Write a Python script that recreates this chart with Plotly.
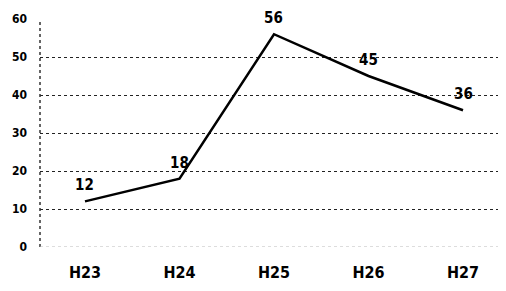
import plotly.graph_objects as go

categories = ["H23", "H24", "H25", "H26", "H27"]
values = [12, 18, 56, 45, 36]
y_ticks = [0, 10, 20, 30, 40, 50, 60]

FONT = "DejaVu Sans Condensed, Liberation Sans Narrow, sans-serif"

fig = go.Figure()
fig.add_trace(go.Scatter(
    x=list(range(len(categories))), y=values,
    mode="lines",
    line=dict(color="black", width=2.5),
    cliponaxis=False,
    showlegend=False,
))

for i, v in enumerate(values):
    fig.add_annotation(x=i, y=v, text=str(v), showarrow=False, yshift=16,
                       font=dict(family=FONT, size=15, color="black", weight="bold"))

# page body has an 8px margin, so the figure is offset by (8, 8) in the window
fig.update_layout(
    width=506, height=283,
    margin=dict(l=32, r=0, t=11, b=44, autoexpand=False),
    paper_bgcolor="white", plot_bgcolor="white",
    xaxis=dict(
        range=[-0.476, 4.455 + 8 / 94.5], automargin=False,
        tickmode="array", tickvals=list(range(len(categories))), ticktext=categories,
        showgrid=False, zeroline=False, showline=False,
        ticks="", ticklabelstandoff=14,
        tickfont=dict(family=FONT, size=16, color="black", weight="bold"),
    ),
    yaxis=dict(
        range=[0, 60], tickvals=y_ticks, automargin=False,
        showgrid=True, gridcolor="#222222", griddash="dot", gridwidth=1.2,
        zeroline=False, showline=False,
        ticks="", ticklabelstandoff=12,
        tickfont=dict(family=FONT, size=12, color="black", weight="bold"),
    ),
)

fig.add_shape(type="line", xref="paper", yref="paper", x0=0, x1=0, y0=0, y1=1,
              line=dict(color="#333333", width=1.5, dash="dot"))
fig.add_shape(type="line", xref="paper", yref="y", x0=0, x1=1, y0=0, y1=0,
              line=dict(color="#bbbbbb", width=1, dash="dot"))

fig.write_html("out.html")
